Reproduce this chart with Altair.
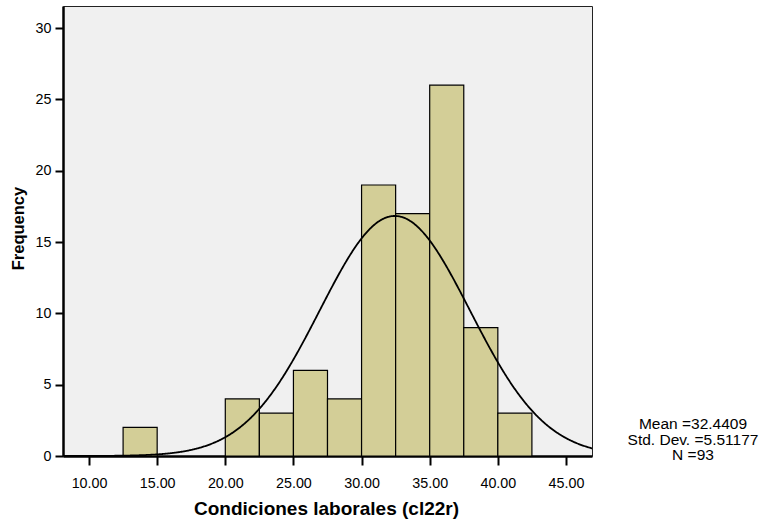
import altair as alt
import pandas as pd

# ---- data ----
bin_start = [12.5, 15.0, 17.5, 20.0, 22.5, 25.0, 27.5, 30.0, 32.5, 35.0, 37.5, 40.0]
bin_end = [15.0, 17.5, 20.0, 22.5, 25.0, 27.5, 30.0, 32.5, 35.0, 37.5, 40.0, 42.5]
counts = [2, 0, 0, 4, 3, 6, 4, 19, 17, 26, 9, 3]
x_ticks = [10, 15, 20, 25, 30, 35, 40, 45]
y_ticks = [0, 5, 10, 15, 20, 25, 30]
MEAN = 32.4409
SD = 5.51177
N = 93
BIN_WIDTH = 2.5
stats_lines = [f"Mean ={MEAN}", f"Std. Dev. ={SD}", f"N ={N}"]
x_title = "Condiciones laborales (cl22r)"
y_title = "Frequency"

X_DOMAIN = [8.09, 46.91]
Y_DOMAIN = [0, 31.55]
FONT = "Liberation Sans"

bars_df = pd.DataFrame({"start": bin_start, "end": bin_end, "count": counts})

xscale = alt.Scale(domain=X_DOMAIN, nice=False, zero=False)
yscale = alt.Scale(domain=Y_DOMAIN, nice=False, zero=True)

x_axis = alt.Axis(
    values=x_ticks, format=".2f", grid=False,
    tickSize=9, tickWidth=2, tickColor="black",
    domainColor="black", domainWidth=2.5,
    labelFont=FONT, labelFontSize=14.3, labelColor="black",
    labelPadding=22, labelBaseline="alphabetic", labelFlush=False,
    labelOverlap=False,
    titleFont=FONT, titleFontSize=19, titleFontWeight="bold", titleColor="black",
    titleX=263, titleY=58, titleAlign="center", titleBaseline="alphabetic",
)
y_axis = alt.Axis(
    values=y_ticks, format="d", grid=False,
    tickSize=8, tickWidth=2, tickColor="black",
    domainColor="black", domainWidth=2.5,
    labelFont=FONT, labelFontSize=14.3, labelColor="black",
    labelPadding=4, labelOverlap=False,
    titleFont=FONT, titleFontSize=16.5, titleFontWeight="bold", titleColor="black",
    titleX=-40, titleY=222, titleAngle=270, titleAlign="center",
    titleBaseline="alphabetic",
)

bars = (
    alt.Chart(bars_df)
    .transform_filter("datum.count > 0")
    .mark_bar(fill="#D3CE97", stroke="black", strokeWidth=1.2, opacity=1)
    .encode(
        x=alt.X("start:Q", scale=xscale, axis=x_axis, title=x_title),
        x2="end:Q",
        y=alt.Y("count:Q", scale=yscale, axis=y_axis, title=y_title),
        y2=alt.datum(0),
    )
)

curve = (
    alt.Chart(alt.sequence(X_DOMAIN[0], X_DOMAIN[1] + 0.05, 0.05, as_="xv"))
    .transform_calculate(
        yv=f"{N}*{BIN_WIDTH}/({SD}*sqrt(2*PI))*exp(-0.5*pow((datum.xv-{MEAN})/{SD},2))"
    )
    .mark_line(color="black", strokeWidth=1.8, clip=True)
    .encode(
        x=alt.X("xv:Q", scale=xscale, axis=x_axis, title=x_title),
        y=alt.Y("yv:Q", scale=yscale, axis=y_axis, title=y_title),
    )
)

stats_df = pd.DataFrame({"t": ["\n".join(stats_lines)]})
stats = (
    alt.Chart(stats_df)
    .mark_text(
        align="center", baseline="top", lineBreak="\n", lineHeight=15.5,
        font=FONT, fontSize=15.5, color="black",
    )
    .encode(text="t:N", x=alt.value(630), y=alt.value(411))
)

chart = (
    alt.layer(bars, curve, stats)
    .properties(
        width=529, height=450,
        autosize=alt.AutoSizeParams(type="none"),
        padding={"left": 63, "top": 6, "right": 172, "bottom": 69},
        background="white",
    )
    .configure_view(fill="#F0F0F0", stroke="#222222", strokeWidth=1)
)

chart.save("out.html", embed_options={"renderer": "svg", "actions": False})
